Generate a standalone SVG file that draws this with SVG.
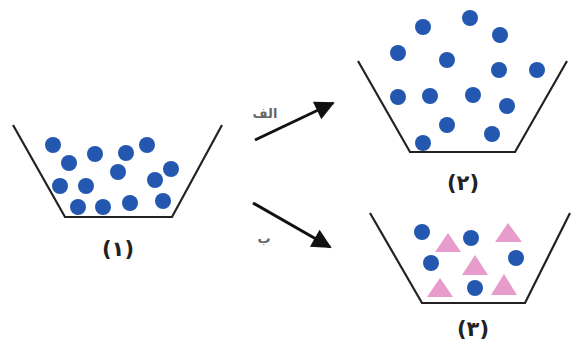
<svg xmlns="http://www.w3.org/2000/svg" width="571" height="343" viewBox="0 0 571 343">
<style>
.cup{fill:none;stroke:#222;stroke-width:2.2;stroke-linejoin:miter}
.d{fill:#2457b0}
.t{fill:#e89ccb}
.lbl{font-family:"DejaVu Sans",sans-serif;font-weight:bold;font-size:21px;fill:#222;text-anchor:middle;letter-spacing:-1px}
.al{font-family:"DejaVu Sans",sans-serif;font-weight:bold;font-size:13px;fill:#666;text-anchor:middle}
.arr{stroke:#111;stroke-width:3;fill:none}
</style>
<defs>
<marker id="ah" viewBox="0 0 10 10" refX="9" refY="5" markerWidth="7.5" markerHeight="6.5" orient="auto" markerUnits="strokeWidth">
<path d="M0,0 L10,5 L0,10 z" fill="#111"/>
</marker>
</defs>
<rect width="571" height="343" fill="#fff"/>
<g id="container1">
<polyline class="cup" points="13,125 65,217 172,217 222,125"/>
<circle class="d" cx="53" cy="145" r="8"/>
<circle class="d" cx="69" cy="163" r="8"/>
<circle class="d" cx="95" cy="154" r="8"/>
<circle class="d" cx="126" cy="153" r="8"/>
<circle class="d" cx="147" cy="145" r="8"/>
<circle class="d" cx="118" cy="172" r="8"/>
<circle class="d" cx="171" cy="169" r="8"/>
<circle class="d" cx="155" cy="180" r="8"/>
<circle class="d" cx="60" cy="186" r="8"/>
<circle class="d" cx="86" cy="186" r="8"/>
<circle class="d" cx="78" cy="207" r="8"/>
<circle class="d" cx="103" cy="207" r="8"/>
<circle class="d" cx="130" cy="203" r="8"/>
<circle class="d" cx="163" cy="201" r="8"/>
<text class="lbl" x="118" y="256">(۱)</text>
</g>
<g id="container2">
<polyline class="cup" points="358,61 410,152 515,152 567,61"/>
<circle class="d" cx="423" cy="27" r="8"/>
<circle class="d" cx="470" cy="18" r="8"/>
<circle class="d" cx="500" cy="35" r="8"/>
<circle class="d" cx="398" cy="53" r="8"/>
<circle class="d" cx="447" cy="60" r="8"/>
<circle class="d" cx="499" cy="70" r="8"/>
<circle class="d" cx="537" cy="70" r="8"/>
<circle class="d" cx="398" cy="97" r="8"/>
<circle class="d" cx="430" cy="96" r="8"/>
<circle class="d" cx="473" cy="95" r="8"/>
<circle class="d" cx="507" cy="106" r="8"/>
<circle class="d" cx="447" cy="125" r="8"/>
<circle class="d" cx="492" cy="134" r="8"/>
<circle class="d" cx="423" cy="143" r="8"/>
<text class="lbl" x="463" y="190">(۲)</text>
</g>
<g id="container3">
<polyline class="cup" points="370,213 422,303 525,303 570,213"/>
<polygon class="t" points="448,233 435,252 461,252"/>
<polygon class="t" points="508,223 495,242 522,242"/>
<polygon class="t" points="475,255 462,275 488,275"/>
<polygon class="t" points="440,278 427,297 453,297"/>
<polygon class="t" points="504,274 491,295 517,295"/>
<circle class="d" cx="422" cy="232" r="8"/>
<circle class="d" cx="471" cy="238" r="8"/>
<circle class="d" cx="516" cy="258" r="8"/>
<circle class="d" cx="431" cy="263" r="8"/>
<circle class="d" cx="475" cy="288" r="8"/>
<text class="lbl" x="473" y="336">(۳)</text>
</g>
<g id="connectors">
<line class="arr" x1="255" y1="140" x2="333" y2="103" marker-end="url(#ah)"/>
<text class="al" x="265" y="118">الف</text>
<line class="arr" x1="253" y1="203" x2="330" y2="247" marker-end="url(#ah)"/>
<text class="al" x="264" y="243">ب</text>
</g>
</svg>
